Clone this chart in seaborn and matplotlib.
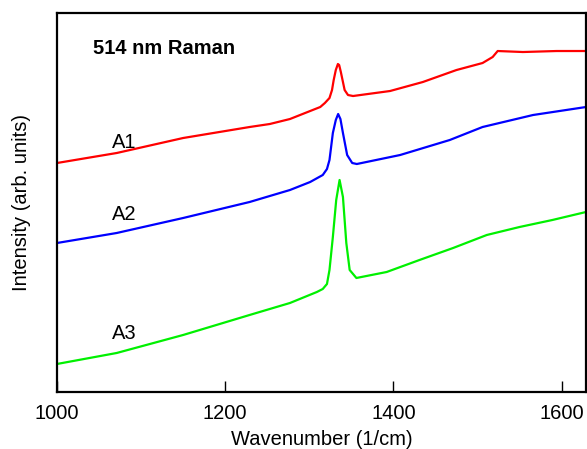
import matplotlib
matplotlib.use("Agg")
import matplotlib.pyplot as plt
import seaborn as sns

# Raman spectra (wavenumber in 1/cm, intensity in arb. units)
wn_a1 = [1000, 1071, 1150, 1229, 1253, 1277, 1289, 1301, 1313, 1318.5, 1324, 1327, 1329, 1331.5,
         1334, 1335.5, 1337.5, 1340, 1342, 1346, 1352, 1396, 1435, 1475, 1506, 1518, 1524,
         1554, 1594, 1629]
int_a1 = [229, 239, 254, 265, 268, 273, 277, 281, 285, 289, 294, 302, 312, 322,
          328, 327, 320, 310, 302, 297, 296, 301, 310, 322, 329, 335, 341,
          340, 341, 341]

wn_a2 = [1000, 1071, 1150, 1229, 1277, 1301, 1316, 1321, 1324, 1328, 1331.5, 1334.3,
         1337, 1340, 1345, 1351, 1356.5, 1408, 1467, 1506, 1566, 1629]
int_a2 = [149, 159, 174, 190, 202, 210, 217, 223, 232, 259, 272, 278,
          273, 259, 237, 229, 228, 237, 252, 265, 277, 285]

wn_a3 = [1000, 1071, 1150, 1229, 1277, 1309, 1316, 1321, 1324, 1328, 1332, 1336, 1340,
         1344, 1348, 1356, 1392, 1431, 1471, 1511, 1550, 1589, 1629]
int_a3 = [28, 39, 57, 77, 89, 100, 103, 108, 122, 155, 192, 212, 195,
          149, 122, 114, 120, 132, 144, 157, 165, 172, 180]

labels = ["A1", "A2", "A3"]
label_pos = [(1080, 250), (1080, 177), (1080, 58)]
colors = ["#ff0000", "#0000ff", "#00f000"]

sns.set_style("white")
plt.rcParams["font.family"] = ["Liberation Sans", "DejaVu Sans"]
plt.rcParams["text.color"] = "black"
plt.rcParams["axes.labelcolor"] = "black"
plt.rcParams["xtick.color"] = "black"

fig = plt.figure(figsize=(5.87, 4.49), dpi=100)
ax = fig.add_axes([0.0971, 0.127, 0.9012, 0.844])

for wn, inten, c in zip([wn_a1, wn_a2, wn_a3], [int_a1, int_a2, int_a3], colors):
    sns.lineplot(x=wn, y=inten, ax=ax, color=c, linewidth=1.6, sort=False)

for lab, (x, y) in zip(labels, label_pos):
    ax.text(x, y, lab, fontsize=14.5, ha="center", va="center")

ax.text(0.068, 0.906, "514 nm Raman", transform=ax.transAxes, fontsize=14.5,
        fontweight="bold", ha="left", va="center")

ax.set_xlim(1000, 1629)
ax.set_ylim(0, 379)
ax.set_xticks([1000, 1200, 1400, 1600])
ax.set_yticks([])
ax.tick_params(axis="x", bottom=True, direction="in", length=8, width=1,
               labelsize=14.5, pad=9)
ax.set_xlabel("Wavenumber (1/cm)", fontsize=14.5)
ax.set_ylabel("Intensity (arb. units)", fontsize=14.5)
ax.xaxis.set_label_coords(0.5, -0.100)
ax.yaxis.set_label_coords(-0.05, 0.5)
for s in ax.spines.values():
    s.set_linewidth(1.6)
    s.set_color("black")

fig.savefig("out.png", dpi=100)
